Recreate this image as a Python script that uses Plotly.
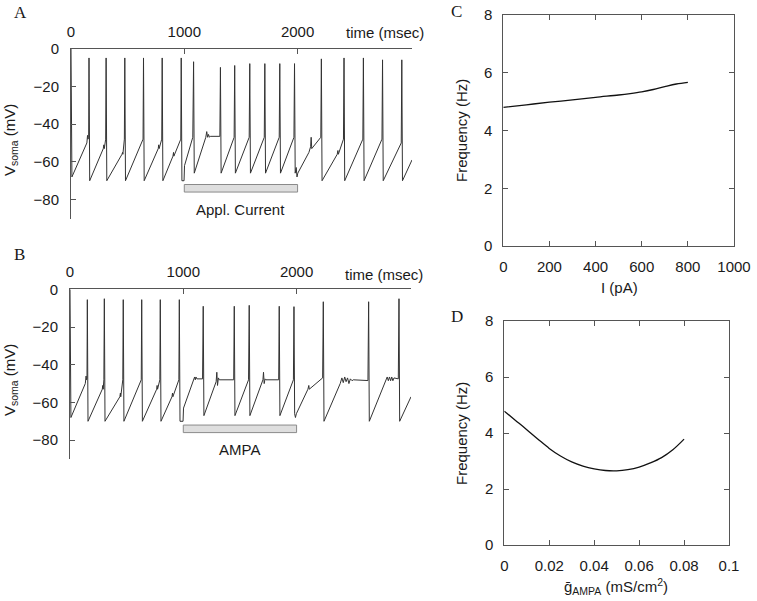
import plotly.graph_objects as go

# ---------------- data ----------------
# Panel A: somatic voltage trace (vertices), applied current
time_A = [0, 8, 140, 146, 150, 156, 159, 165,
          285, 290, 294, 306, 310, 316,
          450, 455, 458, 471, 475, 481,
          636, 640, 646,
          770, 774, 778, 801, 805, 811,
          900, 905, 908, 969, 973, 979,
          998, 1002, 1075, 1082, 1088,
          1190, 1198, 1206, 1214, 1222, 1230, 1314, 1319, 1325,
          1440, 1445, 1451,
          1573, 1578, 1584,
          1706, 1711, 1717,
          1838, 1843, 1849,
          1968, 1973, 1979,
          1988, 1995, 2002, 2100, 2115, 2120, 2125, 2205, 2210, 2216,
          2350, 2356, 2360, 2405, 2410, 2416,
          2576, 2581, 2587,
          2745, 2750, 2756,
          2915, 2920, 2926, 3010]
v_A = [0, -68, -50, -46, -48, -47, -5, -70,
       -53, -51, -53, -48, -5, -70,
       -56, -55, -56, -48, -5, -70,
       -48, -5, -70,
       -53, -51, -53, -48, -5, -70,
       -57, -55, -57, -48, -5, -70,
       -70, -62, -47, -7, -66,
       -47, -44, -47, -45.5, -47, -46.5, -46.5, -10, -66,
       -47, -9, -66,
       -47, -8, -66,
       -47, -8, -66,
       -47, -8, -66,
       -47, -8, -66,
       -63, -68, -66, -55, -52, -47, -53, -47, -5.5, -70,
       -56, -54, -56, -48, -5, -70,
       -48, -5, -70,
       -48, -6, -70,
       -50, -6, -70, -59]

# Panel B: somatic voltage trace with AMPA input
time_B = [0, 8, 135, 142, 146, 150, 153, 159,
          285, 289, 293, 299, 303, 309,
          440, 445, 448, 466, 470, 476,
          629, 633, 639,
          765, 769, 773, 793, 797, 803,
          900, 905, 908, 961, 965, 971,
          998, 1002, 1080, 1100, 1106, 1112, 1120, 1170, 1176, 1182,
          1290, 1296, 1302, 1310, 1318, 1445, 1450, 1456,
          1576, 1582, 1588,
          1703, 1708, 1714, 1722, 1730, 1842, 1847, 1853,
          1972, 1977, 1983,
          1990, 1998, 2100, 2108, 2112, 2230, 2236, 2242,
          2385, 2400, 2412, 2425, 2437, 2450, 2462, 2475, 2490, 2500, 2630, 2636, 2642,
          2790, 2800, 2810, 2820, 2830, 2840, 2850, 2860, 2898, 2904, 2910, 3010]
v_B = [0, -68, -50, -46, -48, -47, -5.5, -70,
       -53, -51, -53, -48, -5, -70,
       -57, -55, -57, -48, -5.5, -70,
       -48, -5.5, -70,
       -53, -51, -53, -48, -5.5, -70,
       -57, -55, -57, -48, -5.5, -70,
       -70, -63, -50, -46.5, -48, -46.5, -47.5, -47.5, -9, -67,
       -49, -44, -51, -47, -48, -48, -9, -67,
       -48, -8.5, -67,
       -48, -44, -50, -47.5, -48, -48, -9, -67,
       -48, -9.2, -66,
       -68, -66, -53, -51, -53, -47, -6.6, -70,
       -50, -47, -49.5, -46.5, -49, -47, -50, -47.5, -48.5, -48, -48.4, -6.6, -70,
       -48, -46.5, -48.5, -46.5, -48.5, -46.5, -48.5, -47, -47.5, -5, -70, -57]

stim_start = 1000
stim_end = 2000
stim_bar_low = -76
stim_bar_high = -72

# Panel C: frequency vs applied current
current_pA = [0, 100, 200, 300, 400, 500, 550, 600, 650, 700, 750, 800]
freq_C = [4.80, 4.89, 4.98, 5.06, 5.15, 5.23, 5.28, 5.34, 5.42, 5.52, 5.61, 5.67]

# Panel D: frequency vs AMPA conductance
g_ampa = [0, 0.005, 0.01, 0.015, 0.02, 0.025, 0.03, 0.035, 0.04, 0.045, 0.05,
          0.055, 0.06, 0.065, 0.07, 0.075, 0.08]
freq_D = [4.78, 4.45, 4.12, 3.78, 3.45, 3.18, 2.97, 2.82, 2.72, 2.66, 2.65,
          2.69, 2.78, 2.93, 3.12, 3.40, 3.78]

time_ticks = [0, 1000, 2000]
v_ticks = [0, -20, -40, -60, -80]
i_ticks = [0, 200, 400, 600, 800, 1000]
g_ticks = [0, 0.02, 0.04, 0.06, 0.08, 0.1]
g_ticktext = ["0", "0.02", "0.04", "0.06", "0.08", "0.1"]
f_ticks = [0, 2, 4, 6, 8]

# ---------------- figure ----------------
W, H = 757, 601
FONT = "Liberation Sans, Arial, Helvetica, sans-serif"
SERIF = "Liberation Serif, Times New Roman, serif"
TXT = "#1a1a1a"
AX = "#555555"
TRACE = "#333333"

fig = go.Figure()
fig.add_trace(go.Scatter(x=time_A, y=v_A, mode="lines", line=dict(color=TRACE, width=1),
                         xaxis="x", yaxis="y", showlegend=False, hoverinfo="skip"))
fig.add_trace(go.Scatter(x=time_B, y=v_B, mode="lines", line=dict(color=TRACE, width=1),
                         xaxis="x2", yaxis="y2", showlegend=False, hoverinfo="skip"))
fig.add_trace(go.Scatter(x=current_pA, y=freq_C, mode="lines", line=dict(color="#111", width=1.3, shape="spline"),
                         xaxis="x3", yaxis="y3", showlegend=False, hoverinfo="skip"))
fig.add_trace(go.Scatter(x=g_ampa, y=freq_D, mode="lines", line=dict(color="#111", width=1.3, shape="spline"),
                         xaxis="x4", yaxis="y4", showlegend=False, hoverinfo="skip"))


def px_x(a, b):
    return [a / W, b / W]


def px_y(top, bottom):
    return [1 - bottom / H, 1 - top / H]


time_axis = dict(side="top", range=[0, 3010], tickvals=time_ticks, ticks="inside", ticklen=5,
                 tickcolor=AX, showline=True, linecolor=AX, linewidth=1, showgrid=False,
                 zeroline=False, tickfont=dict(family=FONT, size=15, color=TXT),
                 ticklabelstandoff=5, automargin=False)
volt_axis = dict(range=[-90, 0], tickvals=v_ticks, ticks="inside", ticklen=5, tickcolor=AX,
                 showline=True, linecolor=AX, linewidth=1, showgrid=False, zeroline=False,
                 tickfont=dict(family=FONT, size=15, color=TXT), ticklabelstandoff=8,
                 automargin=False)
freq_axis = dict(range=[0, 8], tickvals=f_ticks, ticks="inside", ticklen=5, tickcolor=AX,
                 showline=True, mirror="ticks", linecolor=AX, linewidth=1, showgrid=False,
                 zeroline=False, tickfont=dict(family=FONT, size=15, color=TXT), ticklabelstandoff=7,
                 automargin=False)

fig.update_layout(
    width=W, height=H, margin=dict(l=0, r=0, t=0, b=0, autoexpand=False),
    paper_bgcolor="white", plot_bgcolor="rgba(0,0,0,0)",
    xaxis=dict(time_axis, domain=px_x(71, 412), anchor="y"),
    yaxis=dict(volt_axis, domain=px_y(48.5, 218.5), anchor="x"),
    xaxis2=dict(time_axis, domain=px_x(70, 411), anchor="y2"),
    yaxis2=dict(volt_axis, domain=px_y(289.3, 459), anchor="x2"),
    xaxis3=dict(range=[0, 1000], tickvals=i_ticks, ticks="inside", ticklen=5, tickcolor=AX,
                showline=True, mirror="ticks", linecolor=AX, linewidth=1, showgrid=False,
                zeroline=False, tickfont=dict(family=FONT, size=15, color=TXT),
                ticklabelstandoff=7, automargin=False, domain=px_x(503.3, 734), anchor="y3"),
    yaxis3=dict(freq_axis, domain=px_y(15, 246), anchor="x3"),
    xaxis4=dict(range=[0, 0.1], tickvals=g_ticks, ticktext=g_ticktext, ticks="inside", ticklen=5,
                tickcolor=AX, showline=True, mirror="ticks", linecolor=AX, linewidth=1,
                showgrid=False, zeroline=False, tickfont=dict(family=FONT, size=15, color=TXT),
                ticklabelstandoff=7, automargin=False, domain=px_x(504.3, 729), anchor="y4"),
    yaxis4=dict(freq_axis, domain=px_y(321, 545), anchor="x4"),
)

# stimulus bars
for xr, yr in (("x", "y"), ("x2", "y2")):
    fig.add_shape(type="rect", xref=xr, yref=yr, x0=stim_start, x1=stim_end,
                  y0=stim_bar_low, y1=stim_bar_high,
                  fillcolor="#dedede", line=dict(color="#8a8a8a", width=1))


def ann(text, x, y, size=15, family=FONT, angle=0, xanchor="center", yanchor="middle"):
    fig.add_annotation(text=text, x=x / W, y=1 - y / H, xref="paper", yref="paper",
                       showarrow=False, textangle=angle, xanchor=xanchor, yanchor=yanchor,
                       font=dict(family=family, size=size, color=TXT))


# panel letters
ann("A", 20, 13, size=17, family=SERIF)
ann("B", 19, 254, size=17, family=SERIF)
ann("C", 456, 12, size=17, family=SERIF)
ann("D", 457, 316, size=17, family=SERIF)

# time labels
ann("time (msec)", 385, 33)
ann("time (msec)", 384, 274)

# y titles
ann("V<sub>soma</sub> (mV)", 10, 140, angle=-90)
ann("V<sub>soma</sub> (mV)", 10, 380, angle=-90)
ann("Frequency (Hz)", 461, 131, angle=-90)
ann("Frequency (Hz)", 461, 434, angle=-90)

# x titles
ann("I (pA)", 619, 287)
ann("ḡ<sub>AMPA</sub> (mS/cm<sup>2</sup>)", 616, 586)

# stimulus labels
ann("Appl. Current", 240, 209)
ann("AMPA", 239, 449)

fig.write_html("out.html", config={"displayModeBar": False, "staticPlot": True},
               post_script="document.body.style.margin='0px';document.body.style.overflow='hidden';")
